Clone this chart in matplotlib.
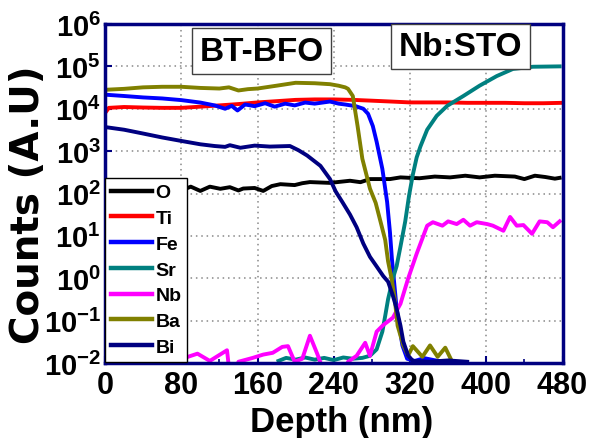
import matplotlib
matplotlib.use("Agg")
import matplotlib.pyplot as plt
from matplotlib.ticker import FixedLocator, NullFormatter

plt.rcParams['font.family'] = 'Liberation Sans'
plt.rcParams['font.weight'] = 'bold'
plt.rcParams['mathtext.fontset'] = 'custom'
plt.rcParams['mathtext.bf'] = 'Liberation Sans:bold'
plt.rcParams['mathtext.rm'] = 'Liberation Sans:bold'

# SIMS depth profiles, counts
o_depth = [0, 10, 20, 30, 40, 50, 60, 70, 79, 90, 100, 110, 121, 131, 140, 145, 157, 166, 175, 184,
           199, 207, 215, 236, 257, 268, 278, 299, 310, 320, 330, 346, 362, 378, 393, 409, 430, 440,
           451, 462, 472, 477]
o_counts = [112, 120, 110, 126, 112, 123, 110, 126, 115, 145, 115, 145, 129, 141, 118, 131, 135, 115,
            150, 166, 158, 175, 186, 178, 200, 185, 219, 219, 240, 234, 229, 251, 240, 263, 240, 263,
            251, 219, 263, 245, 224, 234]

ti_depth = [0, 4, 20, 40, 60, 80, 100, 120, 140, 160, 180, 200, 220, 240, 260, 280, 300, 320, 340,
            360, 380, 400, 420, 440, 460, 480]
ti_counts = [7.9e3, 1.05e4, 1.1e4, 1.07e4, 1.05e4, 1.05e4, 1.12e4, 1.2e4, 1.29e4, 1.41e4, 1.51e4,
             1.62e4, 1.66e4, 1.66e4, 1.62e4, 1.55e4, 1.48e4, 1.41e4, 1.41e4, 1.41e4, 1.38e4, 1.38e4,
             1.38e4, 1.35e4, 1.35e4, 1.38e4]

fe_depth = [0, 20, 40, 60, 80, 100, 115, 126, 133, 139, 147, 157, 168, 178, 189, 199, 210, 220, 236,
            245, 252, 263, 271, 276, 281, 285, 291, 296, 299, 301, 306, 312, 317, 325, 335, 345, 355, 362]
fe_counts = [2.15e4, 2.0e4, 1.85e4, 1.75e4, 1.6e4, 1.4e4, 1.2e4, 1.0e4, 1.17e4, 9.1e3, 1.26e4, 1.15e4,
             1.35e4, 1.12e4, 1.32e4, 1.2e4, 1.4e4, 1.32e4, 1.48e4, 1.32e4, 1.26e4, 1.15e4, 1.0e4, 7.6e3,
             3.9e3, 1.66e3, 380, 63, 12, 2.9, 0.19, 0.026, 0.0126, 0.0112, 0.013, 0.0117, 0.0107, 0.0102]

sr_depth = [182, 190, 200, 210, 220, 230, 240, 250, 260, 270, 278, 285, 291, 294, 297, 302, 306, 310,
            315, 319, 323, 327, 331, 338, 348, 359, 376, 393, 411, 428, 449, 477]
sr_counts = [0.0112, 0.0132, 0.012, 0.0135, 0.012, 0.0132, 0.0117, 0.0135, 0.0126, 0.0132, 0.0148,
             0.021, 0.055, 0.13, 0.32, 0.98, 1.95, 5.6, 22, 89, 280, 710, 1.3e3, 3.2e3, 6.8e3, 1.17e4,
             2.0e4, 3.5e4, 5.9e4, 8.7e4, 9.8e4, 1.0e5]

nb_depth = [76, 87, 97, 110, 128, 131, 137, 140, 155, 166, 176, 186, 192, 199, 207, 215, 223, 231, 252,
            255, 264, 273, 278, 285, 292, 302, 310, 318, 327, 338, 344, 354, 360, 369, 376, 383, 390,
            401, 407, 418, 425, 432, 439, 448, 456, 464, 470, 477]
nb_counts = [0.0107, 0.014, 0.0166, 0.0112, 0.020, 0.005, 0.005, 0.0107, 0.0132, 0.0158, 0.0174, 0.024,
             0.025, 0.0107, 0.0126, 0.044, 0.0158, 0.005, 0.005, 0.0107, 0.0148, 0.030, 0.0148, 0.055,
             0.079, 0.117, 0.25, 0.98, 3.8, 17.4, 21, 17.4, 22, 19, 24, 17.4, 21, 19, 17.4, 13.2, 28,
             17.4, 18, 11.2, 22, 21, 16, 22]

ba_depth = [0, 20, 40, 60, 80, 100, 120, 130, 140, 150, 160, 180, 200, 220, 236, 245, 252, 255, 260,
            265, 270, 278, 284, 289, 294, 297, 301, 304, 307, 313, 318, 323, 333, 341, 349, 357, 364]
ba_counts = [2.8e4, 2.95e4, 3.2e4, 3.3e4, 3.3e4, 3.1e4, 3.0e4, 3.2e4, 2.7e4, 2.9e4, 3.0e4, 3.5e4,
             4.1e4, 4.0e4, 3.8e4, 3.5e4, 3.2e4, 2.95e4, 2.0e4, 3.9e3, 6.6e2, 1.3e2, 60, 22, 8, 2.5, 0.9,
             0.32, 0.076, 0.026, 0.015, 0.025, 0.014, 0.026, 0.014, 0.023, 0.011]

bi_depth = [0, 20, 40, 60, 80, 100, 115, 126, 131, 142, 157, 173, 194, 203, 212, 226, 236, 242, 249,
            257, 264, 271, 278, 285, 292, 297, 302, 306, 310, 313, 318, 323, 340, 360, 380]
bi_counts = [3.7e3, 3.2e3, 2.6e3, 2.1e3, 1.74e3, 1.45e3, 1.32e3, 1.26e3, 1.38e3, 1.2e3, 1.35e3, 1.28e3,
             1.32e3, 1.05e3, 790, 450, 220, 112, 63, 32, 16, 6.6, 3.2, 1.9, 1.12, 0.83, 0.39, 0.19,
             0.076, 0.032, 0.015, 0.0112, 0.0107, 0.0115, 0.0107]

x_ticks = [0, 80, 160, 240, 320, 400, 480]
y_exponents = [-2, -1, 0, 1, 2, 3, 4, 5, 6]

series = [
    ('O', o_depth, o_counts, 'black'),
    ('Ti', ti_depth, ti_counts, '#ff0000'),
    ('Fe', fe_depth, fe_counts, '#0000ff'),
    ('Sr', sr_depth, sr_counts, '#008080'),
    ('Nb', nb_depth, nb_counts, '#ff00ff'),
    ('Ba', ba_depth, ba_counts, '#808000'),
    ('Bi', bi_depth, bi_counts, '#000080'),
]

fig = plt.figure(figsize=(5.9, 4.39), dpi=100)
ax = fig.add_axes([105 / 590, 75 / 439, 457.5 / 590, 339 / 439])

for name, d, c, col in series:
    ax.plot(d, c, color=col, lw=2.8, label=name)

ax.set_yscale('log')
ax.set_xlim(0, 480)
ax.set_ylim(1e-2, 1e6)

ax.set_xticks(x_ticks)
ax.set_xticklabels([str(t) for t in x_ticks])
ax.xaxis.set_minor_locator(FixedLocator(list(range(40, 480, 80))))
ax.set_yticks([10.0 ** e for e in y_exponents])
ax.set_yticklabels([r'$\mathbf{10^{%d}}$' % e for e in y_exponents])
ax.yaxis.set_minor_formatter(NullFormatter())

ax.tick_params(axis='x', which='both', direction='in', colors='#000080', labelcolor='black',
               labelsize=22, pad=5)
ax.tick_params(axis='y', which='both', direction='in', colors='#000080', labelcolor='black',
               labelsize=21, pad=3)
ax.tick_params(which='major', length=5, width=1.5)
ax.tick_params(which='minor', length=3, width=1.2)

ax.grid(True, which='major', linestyle=(0, (1, 2.5)), color='#888888', lw=1.1)
for s in ax.spines.values():
    s.set_color('#000080')
    s.set_linewidth(2.5)

ax.set_xlabel('Depth (nm)', fontsize=25, fontweight='bold', va='center')
ax.xaxis.set_label_coords(0.518, -0.174)
ax.set_ylabel('Counts (A.U)', fontsize=28, fontweight='bold', family='DejaVu Sans', va='center')
ax.yaxis.set_label_coords(-0.168, 0.47)

leg = ax.legend(loc='upper left', bbox_to_anchor=(0, 0.546), borderaxespad=0, fontsize=14,
                handlelength=2.1, handletextpad=0.2, labelspacing=0.42, borderpad=0.3,
                fancybox=False, framealpha=1, edgecolor='black')
leg.get_frame().set_linewidth(1)
for t in leg.get_texts():
    t.set_fontweight('bold')
for h in leg.get_lines():
    h.set_linewidth(3.2)

box = dict(boxstyle='square,pad=0.22', facecolor='white', edgecolor='#404040', lw=1)
ax.text(0.342, 0.920, 'BT-BFO', transform=ax.transAxes, ha='center', va='center',
        fontsize=24, fontweight='bold', bbox=box, zorder=5)
ax.text(0.777, 0.934, 'Nb:STO', transform=ax.transAxes, ha='center', va='center',
        fontsize=24, fontweight='bold', bbox=box, zorder=5)

fig.savefig('out.png', dpi=100, facecolor='white')
